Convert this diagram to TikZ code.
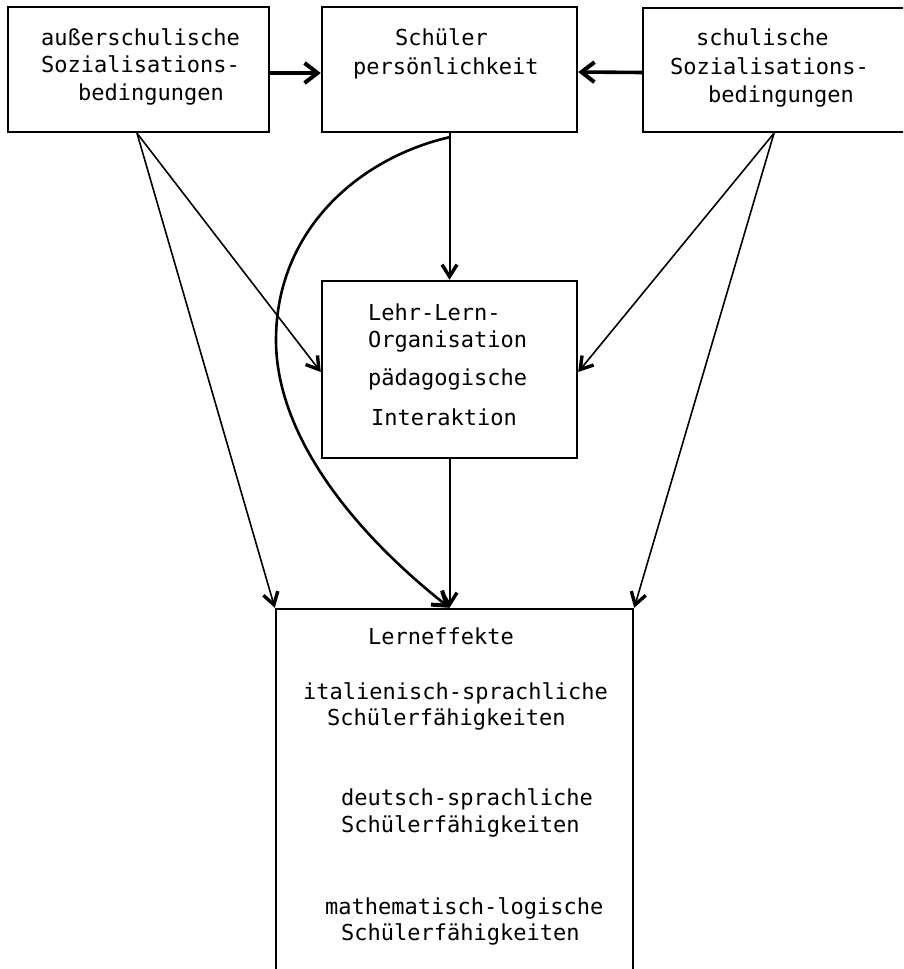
\documentclass[tikz,border=0pt]{standalone}
\usepackage{fontspec}
\newfontfamily\monof{DejaVu Sans Mono}
\usetikzlibrary{arrows.meta}
\begin{document}
\begin{tikzpicture}[x=1pt,y=-1pt,
  box/.style={draw, line width=2.4pt, inner sep=0pt},
  txt/.style={font=\monof\fontsize{22}{27}\selectfont, inner sep=0pt, anchor=mid west},
  thinarrow/.style={line width=1.6pt, -{Straight Barb[length=12pt,width=15pt,line width=3.4pt]}},
  midarrow/.style={line width=2pt, -{Straight Barb[length=12pt,width=15pt,line width=3.4pt]}},
  curvearrow/.style={line width=2.6pt, -{Straight Barb[length=13pt,width=18pt,line width=4pt]}},
  thickarrow/.style={line width=3.6pt, -{Straight Barb[length=13pt,width=20pt,line width=4pt]}}
]
\useasboundingbox (0,0) rectangle (903,969);
\clip (0,0) rectangle (903,969);

% boxes
\node[box, minimum width=261pt, minimum height=125pt] (A) at (138.5,69.5) {};
\node[box, minimum width=255pt, minimum height=125pt] (B) at (449.5,69.5) {};
\node[box, minimum width=280pt, minimum height=124pt] (C) at (783,70) {};
\node[box, minimum width=255pt, minimum height=177pt] (D) at (449.5,369.5) {};
\node[box, minimum width=357pt, minimum height=382pt] (E) at (454.5,800) {};

% texts
\node[txt] (a1) at (41,43) {außerschulische};
\node[txt] (a2) at (41,70) {Sozialisations-};
\node[txt] (a3) at (78,98) {bedingungen};

\node[txt] (b1) at (395,43) {Schüler};
\node[txt] (b2) at (353,72) {persönlichkeit};

\node[txt] (c1) at (696,43) {schulische};
\node[txt] (c2) at (670,72) {Sozialisations-};
\node[txt] (c3) at (708,100) {bedingungen};

\node[txt] (d1) at (368,318) {Lehr-Lern-};
\node[txt] (d2) at (368,345) {Organisation};
\node[txt] (d3) at (368,383) {pädagogische};
\node[txt] (d4) at (371,423) {Interaktion};

\node[txt] (e1) at (368,642) {Lerneffekte};
\node[txt] (e2) at (303,697) {italienisch-sprachliche};
\node[txt] (e3) at (327,723) {Schülerfähigkeiten};
\node[txt] (e4) at (341,803) {deutsch-sprachliche};
\node[txt] (e5) at (341,830) {Schülerfähigkeiten};
\node[txt] (e6) at (325,912) {mathematisch-logische};
\node[txt] (e7) at (341,938) {Schülerfähigkeiten};

% connectors
\coordinate (Eleft) at (E.north west);
\coordinate (Eright) at (E.north east);
\coordinate (Emid) at (D.south |- E.north);
\coordinate (curveleft) at (276,340);

\draw[thickarrow] ([yshift=-3.5pt]A.east) -- ([yshift=-3.5pt]B.west);
\draw[thickarrow] ([yshift=-2.5pt]C.west) -- ([yshift=-2.5pt]B.east);

\draw[midarrow] (B.south) -- (D.north);
\draw[midarrow] (D.south) -- (Emid);

\draw[thinarrow] ([xshift=-1.5pt]A.south) -- ([yshift=-2.5pt]D.west);
\draw[thinarrow] ([xshift=-1.5pt]A.south) -- (Eleft);
\draw[thinarrow] ([xshift=-9pt]C.south) -- ([yshift=-2.5pt]D.east);
\draw[thinarrow] ([xshift=-9pt]C.south) -- (Eright);

\draw[curvearrow] ([yshift=-4pt]B.south) .. controls (359,158) and (276,230) .. (curveleft)
  .. controls (276,430) and (345,525) .. (Emid);
\end{tikzpicture}
\end{document}
